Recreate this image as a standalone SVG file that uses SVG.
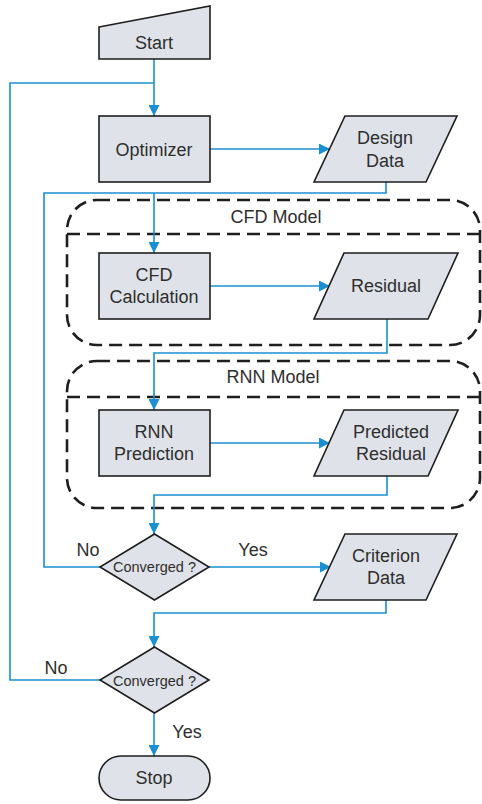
<svg xmlns="http://www.w3.org/2000/svg" width="482" height="804" viewBox="0 0 482 804">
  <style>
    .shape { fill: #dfe3e9; stroke: #1e1e1e; stroke-width: 1.6; }
    .group { fill: none; stroke: #1e1e1e; stroke-width: 2.6; stroke-dasharray: 13 7; }
    .wire { fill: none; stroke: #1a90d0; stroke-width: 1.6; }
    .arrow { fill: none; stroke: #1a90d0; stroke-width: 1.6; marker-end: url(#head); }
    text { font-family: "Liberation Sans", Arial, sans-serif; font-size: 18px; fill: #2e2e2e; text-anchor: middle; }
    .small { font-size: 14.5px; }
  </style>
  <defs>
    <marker id="head" viewBox="0 0 10 10" refX="10" refY="5" markerWidth="11" markerHeight="11" markerUnits="userSpaceOnUse" orient="auto">
      <path d="M0,0 L10,5 L0,10 Z" fill="#1a90d0"/>
    </marker>
  </defs>

  <!-- model groupings (dashed) -->
  <g id="cfd-model">
    <rect class="group" x="67" y="200" width="413" height="145" rx="30" ry="30"/>
    <line class="group" x1="67" y1="234" x2="481" y2="234"/>
    <text x="276" y="223">CFD Model</text>
  </g>
  <g id="rnn-model">
    <rect class="group" x="67" y="361" width="413" height="147" rx="30" ry="30"/>
    <line class="group" x1="67" y1="397" x2="481" y2="397"/>
    <text x="273" y="383">RNN Model</text>
  </g>

  <!-- connectors -->
  <g id="connectors">
    <!-- start to optimizer -->
    <path class="arrow" d="M154,59 V116"/>
    <!-- outer loop: second check "No" back to optimizer -->
    <path class="wire" d="M100,680 H10 V83 H154"/>
    <!-- optimizer to design data -->
    <path class="arrow" d="M210,149 H330"/>
    <!-- design data down into CFD calculation -->
    <path class="wire" d="M386,182 V193 H154"/>
    <path class="arrow" d="M154,193 V253"/>
    <!-- inner loop: first check "No" back to CFD calculation -->
    <path class="wire" d="M100,567 H44 V193 H154"/>
    <!-- CFD calculation to residual -->
    <path class="arrow" d="M210,286 H330"/>
    <!-- residual to RNN prediction -->
    <path class="arrow" d="M387,319 V353 H154 V410"/>
    <!-- RNN prediction to predicted residual -->
    <path class="arrow" d="M210,443 H330"/>
    <!-- predicted residual to first check -->
    <path class="arrow" d="M387,476 V495 H154 V534"/>
    <!-- first check "Yes" to criterion data -->
    <path class="arrow" d="M209,567 H331"/>
    <!-- criterion data to second check -->
    <path class="arrow" d="M386,600 V613 H154 V647"/>
    <!-- second check "Yes" to stop -->
    <path class="arrow" d="M154,713 V756"/>
    <text x="88" y="556">No</text>
    <text x="253" y="556">Yes</text>
    <text x="56" y="674">No</text>
    <text x="187" y="738">Yes</text>
  </g>

  <!-- nodes -->
  <g id="start">
    <path class="shape" d="M99,27 L210,6 V59 H99 Z"/>
    <text x="154" y="49">Start</text>
  </g>
  <g id="optimizer">
    <rect class="shape" x="99" y="116" width="111" height="66"/>
    <text x="154" y="155.5">Optimizer</text>
  </g>
  <g id="design-data">
    <path class="shape" d="M345,116 H457 L426,182 H314 Z"/>
    <text x="385" y="144">Design</text>
    <text x="385" y="167">Data</text>
  </g>
  <g id="cfd-calculation">
    <rect class="shape" x="99" y="253" width="111" height="66"/>
    <text x="154" y="281">CFD</text>
    <text x="154" y="303">Calculation</text>
  </g>
  <g id="residual">
    <path class="shape" d="M344,253 H458 L428,319 H314 Z"/>
    <text x="386" y="292">Residual</text>
  </g>
  <g id="rnn-prediction">
    <rect class="shape" x="99" y="410" width="111" height="66"/>
    <text x="154" y="438">RNN</text>
    <text x="154" y="460">Prediction</text>
  </g>
  <g id="predicted-residual">
    <path class="shape" d="M344,410 H458 L428,476 H314 Z"/>
    <text x="391" y="438">Predicted</text>
    <text x="391" y="460">Residual</text>
  </g>
  <g id="check-inner">
    <path class="shape" d="M154.5,534 L209,567 L154.5,600 L100,567 Z"/>
    <text class="small" x="154.5" y="572">Converged ?</text>
  </g>
  <g id="criterion-data">
    <path class="shape" d="M345,534 H457 L426,600 H314 Z"/>
    <text x="386" y="562">Criterion</text>
    <text x="386" y="584">Data</text>
  </g>
  <g id="check-outer">
    <path class="shape" d="M154.5,647 L209,680 L154.5,713 L100,680 Z"/>
    <text class="small" x="154.5" y="686">Converged ?</text>
  </g>
  <g id="stop">
    <rect class="shape" x="99" y="756" width="111" height="44" rx="22" ry="22"/>
    <text x="154" y="784">Stop</text>
  </g>
</svg>
